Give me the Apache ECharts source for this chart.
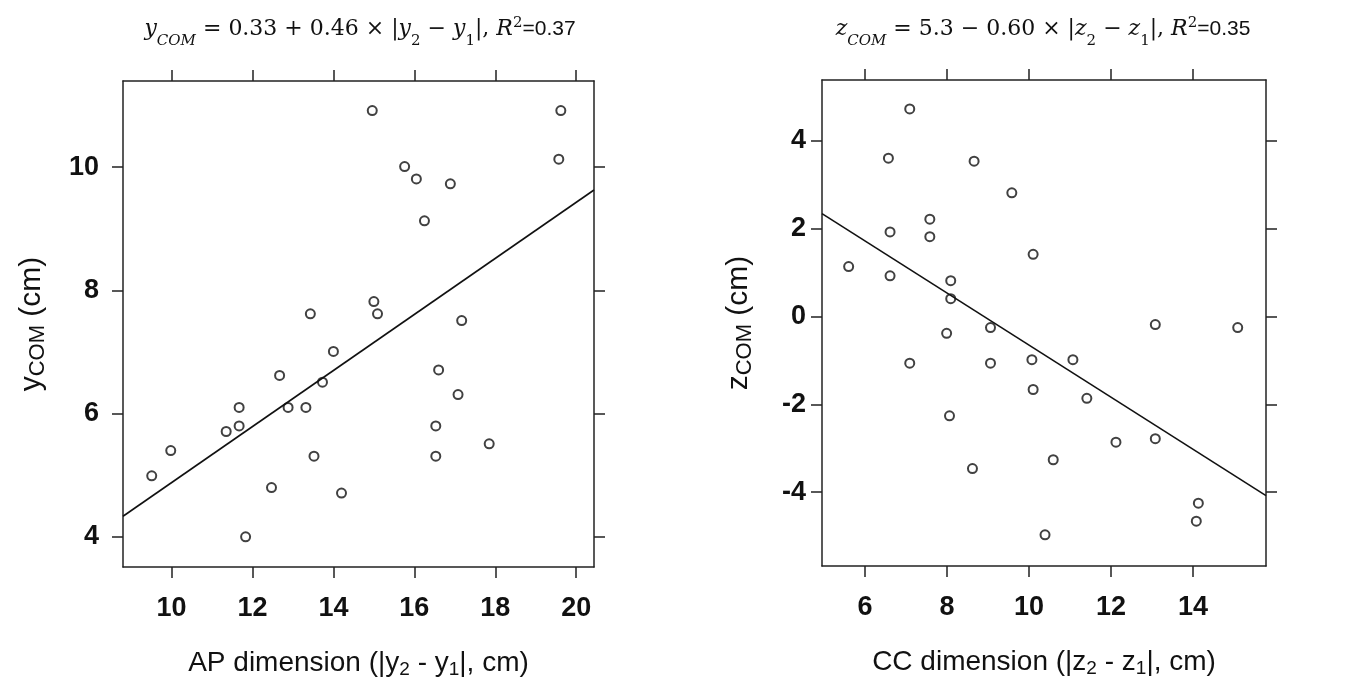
<!DOCTYPE html>
<html>
<head>
<meta charset="utf-8">
<script src="https://cdn.jsdelivr.net/npm/echarts@6/dist/echarts.min.js"></script>
<style>
  html, body { margin: 0; padding: 0; background: #fff; }
  #chart { width: 1360px; height: 685px; }
</style>
</head>
<body>
<div id="chart"></div>
<script>
'use strict';

// AP panel: |y2 - y1| vs y_COM
var apX = [14.96, 19.62, 19.57, 15.76, 16.05, 16.89, 16.25, 15.0, 13.43, 15.09, 17.17, 14.0, 12.67, 16.6, 13.73,
           17.08, 11.67, 12.88, 13.32, 11.35, 11.67, 16.53, 9.98, 17.85, 13.52, 16.53, 9.51, 12.47, 14.2, 11.83];
var apY = [10.92, 10.92, 10.13, 10.01, 9.81, 9.73, 9.13, 7.82, 7.62, 7.62, 7.51, 7.01, 6.62, 6.71, 6.51,
           6.31, 6.10, 6.10, 6.10, 5.71, 5.80, 5.80, 5.40, 5.51, 5.31, 5.31, 4.99, 4.80, 4.71, 4.00];
var apFit = [0.33, 0.455];          // intercept, slope (as drawn)
var apXTicks = [10, 12, 14, 16, 18, 20];
var apYTicks = [4, 6, 8, 10];

// CC panel: |z2 - z1| vs z_COM
var ccX = [7.09, 6.57, 8.66, 9.58, 7.58, 6.61, 7.58, 10.1, 5.6, 6.61, 8.09, 8.09, 13.08, 15.09, 9.06,
           7.99, 7.09, 9.06, 10.07, 11.07, 10.1, 11.41, 8.06, 12.12, 13.08, 10.59, 8.62, 14.13, 14.08, 10.39];
var ccY = [4.73, 3.61, 3.54, 2.82, 2.22, 1.93, 1.82, 1.42, 1.14, 0.93, 0.82, 0.41, -0.18, -0.25, -0.25,
           -0.38, -1.06, -1.06, -0.98, -0.98, -1.66, -1.86, -2.26, -2.86, -2.78, -3.26, -3.46, -4.25, -4.66, -4.97];
var ccFit = [5.28, -0.593];
var ccXTicks = [6, 8, 10, 12, 14];
var ccYTicks = [-4, -2, 0, 2, 4];

var apXRange = [8.8, 20.44], apYRange = [3.51, 11.40];
var ccXRange = [4.95, 15.78], ccYRange = [-5.68, 5.39];

function pairs(xs, ys) {
    return xs.map(function (x, i) { return [x, ys[i]]; });
}
function fitLine(fit, range) {
    return range.map(function (x) { return [x, fit[0] + fit[1] * x]; });
}

var LABEL_FONT = 'Liberation Sans, Arial, sans-serif';
var MATH_FONT = 'DejaVu Serif, Liberation Serif, serif';

function xAxisPair(gridIndex, range, ticks) {
    var base = {
        type: 'value', gridIndex: gridIndex, min: range[0], max: range[1],
        splitLine: { show: false },
        axisLine: { show: true, onZero: false, lineStyle: { color: '#222', width: 1.5 } },
        axisTick: { show: true, length: 11, customValues: ticks, lineStyle: { color: '#222', width: 1.5 } }
    };
    var bottom = Object.assign({}, base, {
        position: 'bottom',
        axisLabel: { customValues: ticks, margin: 28, color: '#111', fontFamily: LABEL_FONT, fontWeight: 'bold', fontSize: 27 }
    });
    var top = Object.assign({}, base, { position: 'top', axisLabel: { show: false } });
    return [bottom, top];
}
function yAxisPair(gridIndex, range, ticks, margin) {
    var base = {
        type: 'value', gridIndex: gridIndex, min: range[0], max: range[1],
        splitLine: { show: false },
        axisLine: { show: true, onZero: false, lineStyle: { color: '#222', width: 1.5 } },
        axisTick: { show: true, length: 11, customValues: ticks, lineStyle: { color: '#222', width: 1.5 } }
    };
    var left = Object.assign({}, base, {
        position: 'left',
        axisLabel: { customValues: ticks, margin: margin, color: '#111', fontFamily: LABEL_FONT, fontWeight: 'bold', fontSize: 27 }
    });
    var right = Object.assign({}, base, { position: 'right', axisLabel: { show: false } });
    return [left, right];
}

var nameRich = {
    n: { fontFamily: LABEL_FONT, fontSize: 28, color: '#111', lineHeight: 32, verticalAlign: 'middle' },
    s: { fontFamily: LABEL_FONT, fontSize: 19, color: '#111', lineHeight: 15, verticalAlign: 'bottom' }
};
var yNameRich = {
    n: { fontFamily: LABEL_FONT, fontSize: 30, color: '#111', lineHeight: 34, verticalAlign: 'middle' },
    s: { fontFamily: LABEL_FONT, fontSize: 22, color: '#111', lineHeight: 18, verticalAlign: 'bottom' }
};
var titleRich = {
    i: { fontFamily: MATH_FONT, fontStyle: 'italic', fontWeight: 'normal', fontSize: 22, color: '#111', lineHeight: 30, verticalAlign: 'middle' },
    n: { fontFamily: MATH_FONT, fontWeight: 'normal', fontSize: 22, color: '#111', lineHeight: 30, verticalAlign: 'middle' },
    si: { fontFamily: MATH_FONT, fontStyle: 'italic', fontWeight: 'normal', fontSize: 15, color: '#111', lineHeight: 14, verticalAlign: 'bottom' },
    sn: { fontFamily: MATH_FONT, fontWeight: 'normal', fontSize: 15, color: '#111', lineHeight: 14, verticalAlign: 'bottom' },
    sup: { fontFamily: MATH_FONT, fontWeight: 'normal', fontSize: 15, color: '#111', lineHeight: 40, verticalAlign: 'middle', padding: [0, 0, 12, 0] },
    c: { fontFamily: LABEL_FONT, fontWeight: 'normal', fontSize: 21, color: '#111', lineHeight: 30, verticalAlign: 'middle' }
};

var xs1 = xAxisPair(0, apXRange, apXTicks);
var xs2 = xAxisPair(1, ccXRange, ccXTicks);
var ys1 = yAxisPair(0, apYRange, apYTicks, 24);
var ys2 = yAxisPair(1, ccYRange, ccYTicks, 16);

xs1[0].name = '{n|AP dimension (|y}{s|2}{n| - y}{s|1}{n||, cm)}';
xs2[0].name = '{n|CC dimension (|z}{s|2}{n| - z}{s|1}{n||, cm)}';
ys1[0].name = '{n|y}{s|COM}{n| (cm)}';
ys2[0].name = '{n|z}{s|COM}{n| (cm)}';
[xs1[0], xs2[0]].forEach(function (a) {
    a.nameLocation = 'middle';
    a.nameTextStyle = { rich: nameRich };
});
[ys1[0], ys2[0]].forEach(function (a) {
    a.nameLocation = 'middle';
    a.nameTextStyle = { rich: yNameRich };
});
xs1[0].nameGap = 80;
xs2[0].nameGap = 80;
ys1[0].nameGap = 74;
ys2[0].nameGap = 66;

var option = {
    backgroundColor: '#fff',
    animation: false,
    title: [
        {
            left: 355, top: 4, textAlign: 'center',
            text: '{i|y}{si|COM}{n| = 0.33 + 0.46 × |}{i|y}{sn|2}{n| − }{i|y}{sn|1}{n||, }{i|R}{sup|2}{c|=0.37}',
            textStyle: { fontWeight: 'normal', rich: titleRich }
        },
        {
            left: 1038, top: 4, textAlign: 'center',
            text: '{i|z}{si|COM}{n| = 5.3 − 0.60 × |}{i|z}{sn|2}{n| − }{i|z}{sn|1}{n||, }{i|R}{sup|2}{c|=0.35}',
            textStyle: { fontWeight: 'normal', rich: titleRich }
        }
    ],
    grid: [
        { left: 123, top: 81, width: 471, height: 486 },
        { left: 822, top: 80, width: 444, height: 486 }
    ],
    xAxis: [xs1[0], xs1[1], xs2[0], xs2[1]],
    yAxis: [ys1[0], ys1[1], ys2[0], ys2[1]],
    series: [
        {
            type: 'scatter', xAxisIndex: 0, yAxisIndex: 0,
            symbol: 'emptyCircle', symbolSize: 9,
            itemStyle: { color: '#111', borderWidth: 1.6 },
            data: pairs(apX, apY)
        },
        {
            type: 'line', xAxisIndex: 0, yAxisIndex: 0,
            showSymbol: false, lineStyle: { color: '#111', width: 1.6 },
            data: fitLine(apFit, apXRange)
        },
        {
            type: 'scatter', xAxisIndex: 2, yAxisIndex: 2,
            symbol: 'emptyCircle', symbolSize: 9,
            itemStyle: { color: '#111', borderWidth: 1.6 },
            data: pairs(ccX, ccY)
        },
        {
            type: 'line', xAxisIndex: 2, yAxisIndex: 2,
            showSymbol: false, lineStyle: { color: '#111', width: 1.6 },
            data: fitLine(ccFit, ccXRange)
        }
    ]
};

var chart = echarts.init(document.getElementById('chart'));
chart.setOption(option);
</script>
</body>
</html>
